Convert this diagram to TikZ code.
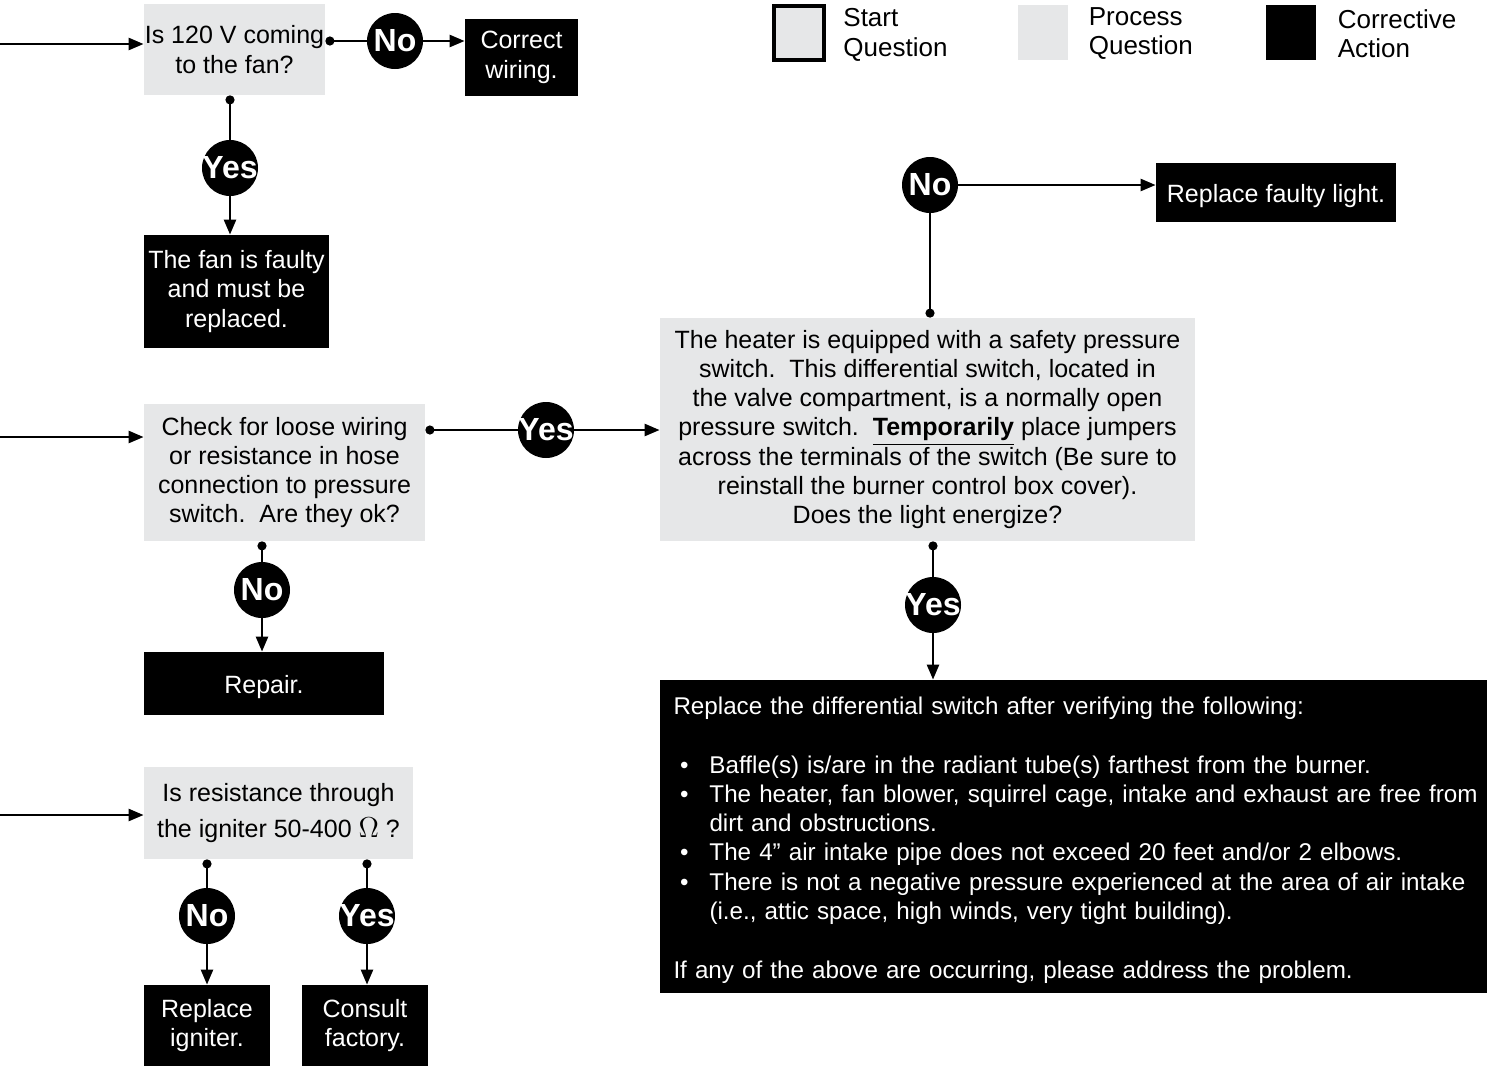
\documentclass[tikz,border=0pt]{standalone}
\usepackage{fontspec}
\setmainfont{Liberation Sans}
\usepackage{tikz}
\usetikzlibrary{positioning,arrows.meta}
\definecolor{procgray}{RGB}{230,231,232}
\newcommand{\boxfont}{\fontsize{12.5}{14.65}\selectfont}
\newcommand{\listfont}{\fontsize{12.1}{14.65}\selectfont}
\newcommand{\legfont}{\fontsize{13}{14.65}\selectfont}
\newcommand{\bul}[1]{\mbox{\makebox[18pt][l]{\hspace{3.3pt}\textbullet}#1}}
\newcommand{\ind}[1]{\mbox{\hspace*{18pt}#1}}

\begin{document}
\begin{tikzpicture}[
      x=0.5pt, y=-0.5pt,
      proc/.style={
        fill=procgray,
        align=center,
        inner sep=0pt,
        font=\boxfont,
        execute at begin node={\rule{0pt}{12.3pt}}
      },
      act/.style={
        fill=black,
        text=white,
        align=center,
        inner sep=0pt,
        font=\boxfont,
        execute at begin node={\rule{0pt}{12.3pt}}
      },
      answer/.style={
        circle,
        fill=black,
        text=white,
        inner sep=-4pt,
        minimum size=28pt,
        font=\bfseries\fontsize{16}{16}\selectfont
      },
      arr/.style={line width=1.25pt, -{Triangle[length=7.5pt,width=6pt]}},
      dotline/.style={line width=1.25pt, {Circle[length=4.5pt]}-}
    ]
    \useasboundingbox (0,0) rectangle (1487,1066);
    %% Legend
    \node[proc, draw, line width=2pt, minimum width=25pt, minimum height=27pt] (lg-start) at (799,33) {};
    \node[right=8.5pt of lg-start, yshift=-1pt, align=left, inner sep=0pt, font=\legfont] (lg-start-txt) {Start\\Question};
    \node[proc, minimum width=25pt, minimum height=27.5pt] (lg-proc) at (1043,32.5) {};
    \node[right=10pt of lg-proc, yshift=-0.5pt, align=left, inner sep=0pt, font=\legfont] (lg-proc-txt) {Process\\Question};
    \node[act, minimum width=25pt, minimum height=27.5pt] (lg-act) at (1291,32.5) {};
    \node[right=10.5pt of lg-act, yshift=-0.5pt, align=left, inner sep=0pt, font=\legfont] (lg-act-txt) {Corrective\\Action};
    %% Fan voltage
    \coordinate (in-1) at (0,44);
    \node[proc, minimum width=90.5pt, minimum height=45.5pt] (q-1) at (234.5,49.5) {Is 120 V coming\\to the fan?};
    \node[answer] (n-1) at (395,41) {No};
    \node[act, minimum width=56.5pt, minimum height=38.5pt] (a-1) at (521.5,57.5) {Correct\\wiring.};
    \node[answer] (y-1) at (230,168) {Yes};
    \node[act, minimum width=92.5pt, minimum height=56.5pt] (a-2) at (236.5,291.5) {The fan is faulty\\and must be\\replaced.};
    \draw[arr] (in-1) -- (in-1 -| q-1.west);
    \draw[dotline] (q-1.east |- n-1) -- (n-1);
    \draw[arr] (n-1) -- (n-1 -| a-1.west);
    \draw[dotline] (q-1.south -| y-1) -- (y-1);
    \draw[arr] (y-1) -- (y-1 |- a-2.north);
    %% Pressure switch
    \coordinate (in-2) at (0,437);
    \node[proc, minimum width=140.5pt, minimum height=68.5pt] (q-2) at (284.5,472.5) {Check for loose wiring\\or resistance in hose\\connection to pressure\\switch.\ \ Are they ok?};
    \node[answer] (y-2) at (546,430) {Yes};
    \node[answer] (n-3) at (262,590) {No};
    \node[act, minimum width=120pt, minimum height=31.5pt] (a-5) at (264,683.5) {Repair.};
    \node[proc, minimum width=267.5pt, minimum height=111.5pt] (q-4) at (927.5,429.5) {The heater is equipped with a safety pressure\\switch.\ \ This differential switch, located in\\the valve compartment, is a normally open\\pressure switch.\ \ \textbf{\underline{Temporarily}} place jumpers\\across the terminals of the switch (Be sure to\\reinstall the burner control box cover).\\Does the light energize?};
    \node[answer] (n-2) at (930,185) {No};
    \node[act, minimum width=120pt, minimum height=29.5pt] (a-3) at (1276,192.5) {Replace faulty light.};
    \node[answer] (y-3) at (933,605) {Yes};
    \node[act, align=left, text width=400pt, inner xsep=6.75pt, inner ysep=0pt, minimum height=156.5pt, font=\listfont] (a-4) at (1073.5,836.5) {%
      \mbox{Replace the differential switch after verifying the following:}\\[14.65pt]
      \bul{Baffle(s) is/are in the radiant tube(s) farthest from the burner.}\\
      \bul{The heater, fan blower, squirrel cage, intake and exhaust are free from}\\
      \ind{dirt and obstructions.}\\
      \bul{The 4\textquotedblright\ air intake pipe does not exceed 20 feet and/or 2 elbows.}\\
      \bul{There is not a negative pressure experienced at the area of air intake}\\
      \ind{(i.e., attic space, high winds, very tight building).}\\[14.65pt]
      \mbox{If any of the above are occurring, please address the problem.}};
    \draw[arr] (in-2) -- (in-2 -| q-2.west);
    \draw[dotline] (q-2.east |- y-2) -- (y-2);
    \draw[arr] (y-2) -- (y-2 -| q-4.west);
    \draw[dotline] (q-2.south -| n-3) -- (n-3);
    \draw[arr] (n-3) -- (n-3 |- a-5.north);
    \draw[dotline] (q-4.north -| n-2) -- (n-2);
    \draw[arr] (n-2) -- (n-2 -| a-3.west);
    \draw[dotline] (q-4.south -| y-3) -- (y-3);
    \draw[arr] (y-3) -- (y-3 |- a-4.north);
    %% Igniter
    \coordinate (in-3) at (0,815);
    \node[proc, minimum width=134.5pt, minimum height=46pt] (q-3) at (278.5,813) {Is resistance through\\[3.5pt]the igniter 50-400 {\fontsize{15}{15}\selectfont$\Omega$} ?};
    \node[answer] (n-4) at (207,916) {No};
    \node[answer] (y-4) at (367,916) {Yes};
    \node[act, minimum width=63pt, minimum height=40.5pt] (a-6) at (207,1025.5) {Replace\\igniter.};
    \node[act, minimum width=63pt, minimum height=40.5pt] (a-7) at (365,1025.5) {Consult\\factory.};
    \draw[arr] (in-3) -- (in-3 -| q-3.west);
    \draw[dotline] (q-3.south -| n-4) -- (n-4);
    \draw[arr] (n-4) -- (n-4 |- a-6.north);
    \draw[dotline] (q-3.south -| y-4) -- (y-4);
    \draw[arr] (y-4) -- (y-4 |- a-7.north);
  \end{tikzpicture}
\end{document}
